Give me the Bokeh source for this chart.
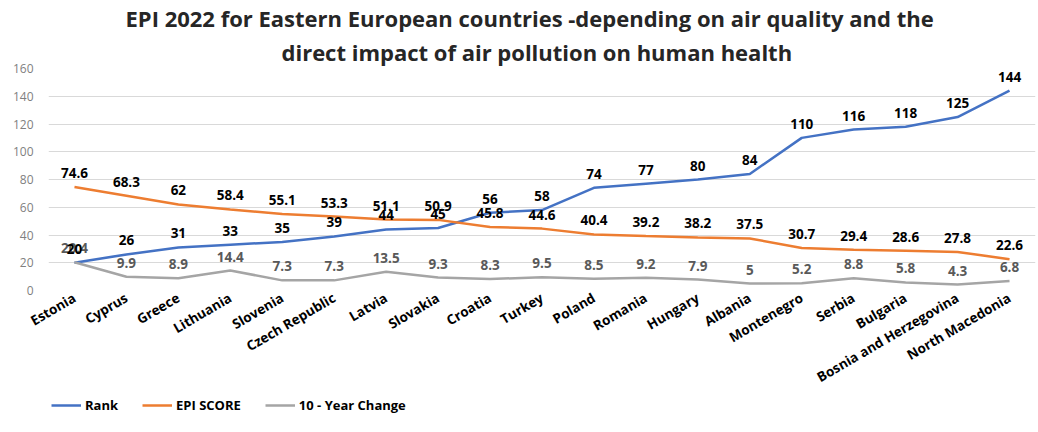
from bokeh.plotting import figure
from bokeh.models import ColumnDataSource, LabelSet, Legend, LegendItem, FixedTicker, Title
from bokeh.layouts import column
from bokeh.core.properties import value
from bokeh.embed import file_html
from bokeh.resources import INLINE

countries = ["Estonia", "Cyprus", "Greece", "Lithuania", "Slovenia", "Czech Republic", "Latvia",
             "Slovakia", "Croatia", "Turkey", "Poland", "Romania", "Hungary", "Albania",
             "Montenegro", "Serbia", "Bulgaria", "Bosnia and Herzegovina", "North Macedonia"]
rank = [20, 26, 31, 33, 35, 39, 44, 45, 56, 58, 74, 77, 80, 84, 110, 116, 118, 125, 144]
epi_score = [74.6, 68.3, 62, 58.4, 55.1, 53.3, 51.1, 50.9, 45.8, 44.6, 40.4, 39.2, 38.2, 37.5,
             30.7, 29.4, 28.6, 27.8, 22.6]
ten_year_change = [20.4, 9.9, 8.9, 14.4, 7.3, 7.3, 13.5, 9.3, 8.3, 9.5, 8.5, 9.2, 7.9, 5, 5.2,
                   8.8, 5.8, 4.3, 6.8]
y_ticks = [0, 20, 40, 60, 80, 100, 120, 140, 160]
series_names = ["Rank", "EPI SCORE", "10 - Year Change"]
series_colors = ["#4472C4", "#ED7D31", "#A5A5A5"]
title_lines = ["EPI 2022 for Eastern European countries -depending on air quality and the",
               "direct impact of air pollution on human health"]

def fmt(v):
    return "%g" % v

src = ColumnDataSource(dict(
    x=countries, rank=rank, epi=epi_score, chg=ten_year_change,
    rank_l=[fmt(v) for v in rank], epi_l=[fmt(v) for v in epi_score],
    chg_l=[fmt(v) for v in ten_year_change]))

FONT = "Open Sans"
p = figure(x_range=countries, y_range=(0, 160), width=1038, height=396,
           output_backend="svg", toolbar_location=None,
           min_border_left=48, min_border_right=3, min_border_top=12, min_border_bottom=0)
p.title = None
# second line first so it sits closest to the plot
p.add_layout(Title(text=title_lines[1], align="left", text_font=FONT, text_font_size="22px",
                   text_font_style="bold", text_color="#262626", standoff=4, offset=233,
                   text_line_height=0.85), "above")
p.add_layout(Title(text=title_lines[0], align="left", text_font=FONT, text_font_size="22px",
                   text_font_style="bold", text_color="#262626", standoff=0, offset=77,
                   text_line_height=0.85), "above")

p.outline_line_color = None
p.background_fill_color = "white"
p.border_fill_color = "white"
p.xgrid.grid_line_color = None
p.ygrid.grid_line_color = "#d9d9d9"
p.ygrid.grid_line_width = 1
p.yaxis.ticker = FixedTicker(ticks=y_ticks)
p.yaxis.axis_line_color = None
p.yaxis.major_tick_line_color = None
p.yaxis.minor_tick_line_color = None
p.yaxis.major_label_text_font = FONT
p.yaxis.major_label_text_font_size = "12px"
p.yaxis.major_label_text_color = "#7f7f7f"
p.yaxis.major_label_standoff = 9

p.xaxis.axis_line_color = None
p.xaxis.major_tick_line_color = None
p.xaxis.major_label_orientation = 0.53
p.xaxis.major_label_text_font = FONT
p.xaxis.major_label_text_font_size = "13.5px"
p.xaxis.major_label_text_font_style = "bold"
p.xaxis.major_label_text_color = "black"
p.xaxis.major_label_standoff = 0

r1 = p.line("x", "rank", source=src, line_color=series_colors[0], line_width=2.5)
r2 = p.line("x", "epi", source=src, line_color=series_colors[1], line_width=2.5)
r3 = p.line("x", "chg", source=src, line_color=series_colors[2], line_width=2.5)

common = dict(source=src, x="x", text_align="center", text_baseline="middle",
              text_font=value(FONT), text_font_size=value("13.5px"),
              text_font_style=value("bold"), y_offset=14)
p.add_layout(LabelSet(y="chg", text="chg_l", text_color="#595959", **common))
p.add_layout(LabelSet(y="epi", text="epi_l", text_color="black", **common))
p.add_layout(LabelSet(y="rank", text="rank_l", text_color="black", **common))

# legend strip below the chart (its frame is aligned with the chart's frame)
p2 = figure(width=1038, height=36, x_range=(0, 1), y_range=(0, 1),
            output_backend="svg", toolbar_location=None,
            min_border_left=48, min_border_right=3, min_border_top=0, min_border_bottom=0)
p2.axis.visible = False
p2.grid.visible = False
p2.outline_line_color = None
p2.border_fill_color = "white"
lr = [p2.line(x=[-5, -4], y=[-5, -5], line_color=c, line_width=2.5) for c in series_colors]
legend = Legend(items=[LegendItem(label=n, renderers=[r]) for n, r in zip(series_names, lr)],
                orientation="horizontal", location=(3, 18),
                label_text_font=FONT, label_text_font_size="13px", label_text_font_style="bold",
                label_text_color="black", glyph_width=30, glyph_height=14, label_standoff=4,
                spacing=24, padding=2, margin=0, border_line_color=None,
                background_fill_alpha=0)
p2.add_layout(legend, "center")

open("out.html", "w").write(file_html(column(p, p2, spacing=0), INLINE))
